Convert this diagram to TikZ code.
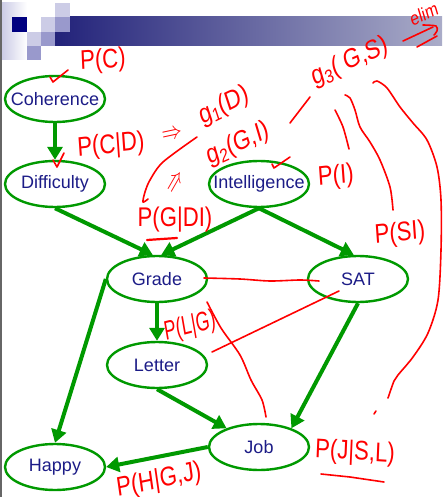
\documentclass[tikz,border=0pt]{standalone}
\usepackage{fontspec}
\setmainfont{Liberation Sans}
\usetikzlibrary{arrows.meta,shapes.geometric}
\definecolor{netgreen}{RGB}{0,153,0}
\definecolor{netblue}{RGB}{28,28,135}
\definecolor{inkred}{RGB}{255,0,0}
\definecolor{tplnavy}{RGB}{0,0,128}
\definecolor{tpllight}{RGB}{204,204,230}
\definecolor{tplmid}{RGB}{153,153,204}
\definecolor{barleft}{RGB}{34,34,122}
\definecolor{barright}{RGB}{170,172,200}
\newcommand{\nodelbl}[1]{\makebox[0pt]{#1}}
\begin{document}
\begin{tikzpicture}[x=1pt,y=-1pt]
\tikzstyle{var}=[ellipse,draw=netgreen,line width=2.4pt,fill=white,minimum width=100pt,minimum height=46pt,inner sep=0pt,text=netblue,font=\fontsize{18}{18}\selectfont]
\tikzstyle{edge}=[line width=4pt,draw=netgreen,-{Triangle[length=13pt,width=15pt]}]
\tikzstyle{ink}=[draw=inkred,line width=1.6pt,line cap=round,line join=round]
\tikzstyle{hand}=[text=inkred,inner sep=0pt,xscale=0.82,font=\fontsize{27}{27}\selectfont]
\useasboundingbox (0,0) rectangle (442,497);
%%%%%%%%%%%%%%%%%%%%%%%%%%%%%%%%%%%%%%%%%%%%%%%%%%%%%%%%%%%%%%%%%%%%%%%%%%%%%%%%%%%%%%%%
%% Slide template corner
%%%%%%%%%%%%%%%%%%%%%%%%%%%%%%%%%%%%%%%%%%%%%%%%%%%%%%%%%%%%%%%%%%%%%%%%%%%%%%%%%%%%%%%%
\fill[white] (0,0) rectangle (442,497);
\fill[black!60] (0,0) rectangle (2,497);
\shade[left color=tpllight,right color=white] (2,3) rectangle (27,60);
\shade[left color=barleft,right color=barright] (55,17) rectangle (442,46);
\fill[tpllight] (55,3) rectangle (70,17);
\fill[tplnavy] (12,17) rectangle (27,32);
\fill[tpllight] (41,17) rectangle (55,32);
\fill[tplmid] (55,17) rectangle (70,32);
\fill[tpllight] (27,32) rectangle (41,46);
\fill[tplmid] (41,32) rectangle (55,46);
\fill[tplmid] (27,46) rectangle (41,60);
%%%%%%%%%%%%%%%%%%%%%%%%%%%%%%%%%%%%%%%%%%%%%%%%%%%%%%%%%%%%%%%%%%%%%%%%%%%%%%%%%%%%%%%%
%% Variables
%%%%%%%%%%%%%%%%%%%%%%%%%%%%%%%%%%%%%%%%%%%%%%%%%%%%%%%%%%%%%%%%%%%%%%%%%%%%%%%%%%%%%%%%
\node[var] (coh) at (55,99) {\nodelbl{Coherence}};
\node[var] (dif) at (55,184) {\nodelbl{Difficulty}};
\node[var] (int) at (259,184) {\nodelbl{Intelligence}};
\node[var] (grade) at (157,279) {\nodelbl{Grade}};
\node[var] (sat) at (358,279) {\nodelbl{SAT}};
\node[var] (letter) at (157,365) {\nodelbl{Letter}};
\node[var] (job) at (259,447) {\nodelbl{Job}};
\node[var] (happy) at (55,467) {\nodelbl{Happy}};
%%%%%%%%%%%%%%%%%%%%%%%%%%%%%%%%%%%%%%%%%%%%%%%%%%%%%%%%%%%%%%%%%%%%%%%%%%%%%%%%%%%%%%%%
%%% Draw connections
%%%%%%%%%%%%%%%%%%%%%%%%%%%%%%%%%%%%%%%%%%%%%%%%%%%%%%%%%%%%%%%%%%%%%%%%%%%%%%%%%%%%%%%%
\draw[edge] (coh) -- (dif);
\draw[edge] (dif.south) -- (grade.100);
\draw[edge] (int.south) -- (grade.80);
\draw[edge] (int.south) -- (sat.100);
\draw[edge] (grade) -- (letter);
\draw[edge] (grade.west) -- (happy.north);
\draw[edge] (letter.south) -- (job.150);
\draw[edge] (sat.south) -- (job.30);
\draw[edge] (job.west) -- (happy.east);
%%%%%%%%%%%%%%%%%%%%%%%%%%%%%%%%%%%%%%%%%%%%%%%%%%%%%%%%%%%%%%%%%%%%%%%%%%%%%%%%%%%%%%%%
%% Pen notes
%%%%%%%%%%%%%%%%%%%%%%%%%%%%%%%%%%%%%%%%%%%%%%%%%%%%%%%%%%%%%%%%%%%%%%%%%%%%%%%%%%%%%%%%
\node[hand,rotate=3] (pc) at (103,61) {P(C)};
\node[hand,rotate=5] (pcd) at (111,146) {P(C|D)};
\node[hand,rotate=10] (impl) at (172,135) {$\Rightarrow$};
\node[hand,rotate=22] (gone) at (224,106) {g\textsubscript{1}(D)};
\node[hand,rotate=20] (gtwo) at (238,144) {g\textsubscript{2}(G,I)};
\node[hand,rotate=55] (impltwo) at (176,183) {$\Rightarrow$};
\node[hand] (pgdi) at (175,220) {P(G|DI)};
\node[hand,rotate=5] (pi) at (336,177) {P(I)};
\node[hand,rotate=5] (psi) at (400,234) {P(SI)};
\node[hand,rotate=20] (gthree) at (350,62) {g\textsubscript{3}( G,S)};
\node[hand,rotate=20,font=\fontsize{19}{19}\selectfont] (elim) at (424,14) {elim};
\node[hand,rotate=12,xscale=0.8] (plg) at (190,327) {P(L|G)};
\node[hand,rotate=-3] (pjsl) at (355,453) {P(J|S,L)};
\node[hand,rotate=10] (phgj) at (159,481) {P(H|G,J)};

% ticks
\draw[ink] (50,77) -- (53,82) -- (68,70);
\draw[ink] (53,160) -- (57,167) -- (64,153);
\draw[ink] (272,164) -- (274,168) -- (290,157);
% underlines
\draw[ink,line width=2.2pt] (147,240) -- (177,238);
\draw[ink] (321,474) -- (350,477) -- (384,482);
% elim arrow
\draw[ink] (403,41) -- (433,27);
\draw[ink] (417,47) -- (437,36);
\draw[ink] plot[smooth] coordinates {(423,25) (436,26) (437,31) (434,35)};
% strokes
\draw[ink] plot[smooth] coordinates {(197,137) (163,162) (150,180) (145,192) (143,202) (148,199)};
\draw[ink] (290,123) -- (310,97);
\draw[ink] plot[smooth] coordinates {(335,110) (343,127) (349,149)};
\draw[ink] plot[smooth] coordinates {(345,95) (350,98) (355,110) (360,127) (370,142) (380,160) (390,187) (393,210)};
\draw[ink] plot[smooth] coordinates {(373,83) (377,81) (387,88) (400,107) (413,123) (427,140) (437,167) (441,200) (441,250) (438,300) (428,333) (413,357) (398,375) (394,381) (388,398)};
\draw[ink] (374,414) -- (376,411);
\draw[ink] plot[smooth] coordinates {(204,278) (240,279) (270,281) (300,280) (319,281)};
\draw[ink] (339,291) -- (212,352);
\draw[ink] plot[smooth] coordinates {(207,302) (221,328) (240,355) (251,380) (262,400) (266,417)};
%%%%%%%%%%%%%%%%%%%%%%%%%%%%%%%%%%%%%%%%%%%%%%%%%%%%%%%%%%%%%%%%%%%%%%%%%%%%%%%%%%%%%%%%
\end{tikzpicture}
\end{document}
